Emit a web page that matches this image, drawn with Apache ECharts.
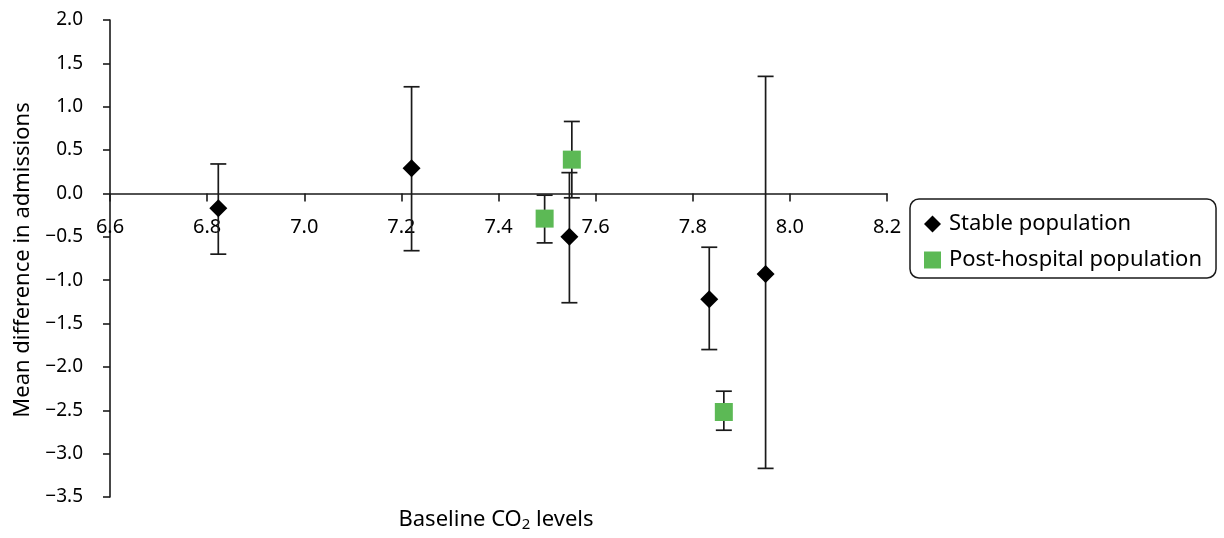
<!DOCTYPE html>
<html>
<head>
<meta charset="utf-8">
<script src="https://cdn.jsdelivr.net/npm/echarts@6/dist/echarts.min.js"></script>
<style>
html,body{margin:0;padding:0;background:#fff;}
#chart{width:1224px;height:538px;}
</style>
</head>
<body>
<div id="chart"></div>
<script>
const stableX = [6.823, 7.221, 7.546, 7.834, 7.950];
const stableY = [-0.17, 0.29, -0.50, -1.22, -0.93];
const stableLow = [-0.70, -0.66, -1.26, -1.80, -3.17];
const stableHigh = [0.34, 1.23, 0.24, -0.62, 1.35];

const postX = [7.495, 7.551, 7.864];
const postY = [-0.29, 0.39, -2.52];
const postLow = [-0.57, -0.05, -2.73];
const postHigh = [-0.02, 0.83, -2.28];

const seriesNames = ['Stable population', 'Post-hospital population'];
const xTitle = 'Baseline CO{sub|2} levels';
const yTitle = 'Mean difference in admissions';

const X_MIN = 6.6, X_MAX = 8.2, X_STEP = 0.2;
const Y_MIN = -3.5, Y_MAX = 2.0, Y_STEP = 0.5;

const FONT = 'Noto Sans';
const INK = '#1a1a1a';
const GREEN = '#5cb955';

const W = 1224, H = 538;
const G = { left: 110, right: 337, top: 20, bottom: 41 };
const gridH = H - G.top - G.bottom;
const zeroOffset = -gridH * (0 - Y_MIN) / (Y_MAX - Y_MIN);

function pts(xs, ys) { return xs.map((x, i) => [x, ys[i]]); }
function bars(xs, lo, hi) { return xs.map((x, i) => [x, lo[i], hi[i]]); }

function renderErr(params, api) {
  const x = api.value(0);
  const p1 = api.coord([x, api.value(1)]);
  const p2 = api.coord([x, api.value(2)]);
  const hw = 8;
  const st = { stroke: INK, lineWidth: 1.7 };
  return {
    type: 'group',
    children: [
      { type: 'line', shape: { x1: p1[0], y1: p1[1], x2: p2[0], y2: p2[1] }, style: st },
      { type: 'line', shape: { x1: p1[0] - hw, y1: p1[1], x2: p1[0] + hw, y2: p1[1] }, style: st },
      { type: 'line', shape: { x1: p2[0] - hw, y1: p2[1], x2: p2[0] + hw, y2: p2[1] }, style: st }
    ]
  };
}

const chart = echarts.init(document.getElementById('chart'));
chart.setOption({
  animation: false,
  textStyle: { fontFamily: FONT },
  grid: { left: G.left, right: G.right, top: G.top, bottom: G.bottom, containLabel: false },
  xAxis: {
    type: 'value', min: X_MIN, max: X_MAX, interval: X_STEP,
    position: 'bottom',
    offset: zeroOffset,
    axisLine: { onZero: false, lineStyle: { color: INK, width: 1.6 } },
    axisTick: { show: true, inside: false, length: 8, lineStyle: { color: INK, width: 1.6 } },
    axisLabel: { color: '#000', fontSize: 20, fontFamily: FONT, margin: 24,
      formatter: v => v.toFixed(1) },
    splitLine: { show: false }
  },
  yAxis: {
    type: 'value', min: Y_MIN, max: Y_MAX, interval: Y_STEP,
    axisLine: { show: true, onZero: false, lineStyle: { color: INK, width: 1.6 } },
    axisTick: { show: true, length: 7, lineStyle: { color: INK, width: 1.6 } },
    axisLabel: { color: '#000', fontSize: 19, fontFamily: FONT, margin: 27,
      formatter: v => v.toFixed(1).replace('-', '\u2212') },
    splitLine: { show: false }
  },
  legend: {
    data: [
      { name: seriesNames[0], icon: 'diamond' },
      { name: seriesNames[1], icon: 'rect' }
    ],
    orient: 'vertical',
    left: 910, top: 199,
    borderColor: INK, borderWidth: 1.5, borderRadius: 9,
    padding: [14, 14, 7, 14],
    itemWidth: 17, itemHeight: 17, itemGap: 14,
    textStyle: { fontSize: 22, color: '#000', fontFamily: FONT, padding: [0, 0, 0, 3] }
  },
  graphic: [
    {
      type: 'text', x: 496, y: 520,
      style: {
        text: xTitle, fill: '#000', font: '22px "' + FONT + '"',
        align: 'center', verticalAlign: 'middle',
        rich: { sub: { fontSize: 15, fontFamily: FONT, verticalAlign: 'bottom', padding: [10, 0, 0, 0], fill: '#000' } }
      }
    },
    {
      type: 'text', x: 23, y: 260, rotation: Math.PI / 2,
      style: { text: yTitle, fill: '#000', font: '22px "' + FONT + '"', align: 'center', verticalAlign: 'middle' }
    }
  ],
  series: [
    { name: 'err-stable', type: 'custom', renderItem: renderErr, data: bars(stableX, stableLow, stableHigh), z: 2, silent: true },
    { name: 'err-post', type: 'custom', renderItem: renderErr, data: bars(postX, postLow, postHigh), z: 2, silent: true },
    { name: seriesNames[0], type: 'scatter', symbol: 'diamond', symbolSize: 18,
      itemStyle: { color: '#000', opacity: 1 }, data: pts(stableX, stableY), z: 5 },
    { name: seriesNames[1], type: 'scatter', symbol: 'rect', symbolSize: 18,
      itemStyle: { color: GREEN, opacity: 1 }, data: pts(postX, postY), z: 5 }
  ]
});
</script>
</body>
</html>
